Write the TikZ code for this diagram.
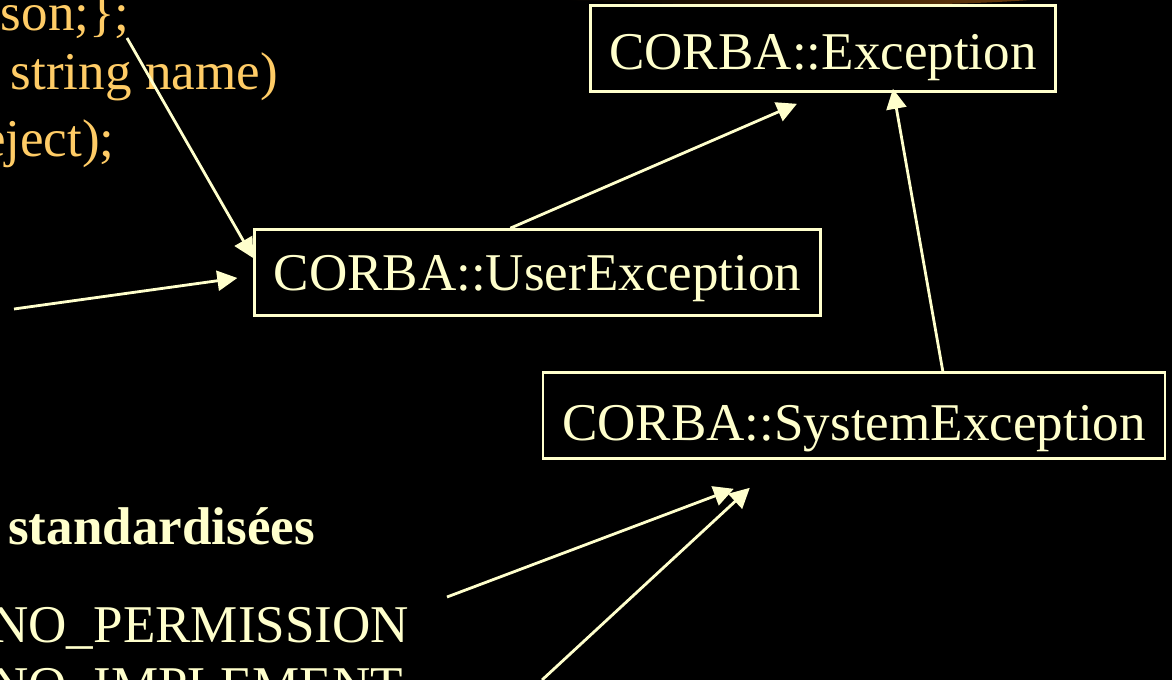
\documentclass[tikz,border=0pt]{standalone}
\usepackage{fontspec}
\setmainfont{Liberation Serif}
\usetikzlibrary{arrows.meta}
\definecolor{cream}{RGB}{255,255,204}
\definecolor{gold}{RGB}{255,204,102}
\definecolor{glow}{RGB}{104,58,12}
\tikzset{
  cls/.style={draw=cream, line width=1.5pt, fill=black, text=cream,
    font=\fontsize{30.2}{36}\selectfont, inner xsep=0.38cm, inner ysep=0pt,
    minimum height=1.72cm, text depth=0pt},
  inh/.style={cream, line width=1.6pt, -{Triangle[length=0.4cm,width=0.4cm]}},
  txt/.style={font=\fontsize{30.2}{36}\selectfont, inner sep=0pt}
}

\begin{document}
\begin{tikzpicture}
\useasboundingbox (0,0) rectangle (23.44,13.6);
\fill [black] (0,0) rectangle (23.44,13.6);
\shade [left color=black, right color=glow] (11.2,13.6) .. controls (14,13.47) and (18.5,13.44) .. (20.6,13.6) -- cycle;

% code lines, cut at the left
\node [txt, text=gold, anchor=base east] (son) at (2.6,12.99) {son;\};};
\node [txt, text=gold, anchor=base east] (name) at (5.56,11.8) {string name)};
\node [txt, text=gold, anchor=base east] (reject) at (2.3,10.46) {eject);};

% standard exceptions
\node [txt, text=cream, anchor=base west, font=\fontsize{30.2}{36}\selectfont\bfseries] (std) at (0.16,2.7) {standardisées};
\node [txt, text=cream, anchor=base west] (perm) at (-0.2,0.74) {NO\_PERMISSION};
\node [txt, text=cream, anchor=base west] (impl) at (-0.2,-0.48) {NO\_IMPLEMENT};

% class boxes
\node [cls, text height=23.4pt] (exc) at (16.46,12.63) {CORBA::Exception};
\node [cls, text height=21pt] (user) at (10.75,8.15) {CORBA::UserException};
\node [cls, text height=29pt] (sys) at (17.08,5.29) {CORBA::SystemException};

\coordinate (a) at (0.28,7.42);
\coordinate (b) at (8.94,1.66);
\coordinate (c) at (10.84,0);

\draw [inh] ([xshift=5.14cm]user.north west) -- ([xshift=4.16cm,yshift=-0.22cm]exc.south west);
\draw [inh] ([xshift=8.02cm]sys.north west) -- ([xshift=6.08cm,yshift=0.08cm]exc.south west);
\draw [inh] (a) -- ([xshift=-0.32cm,yshift=-0.11cm]user.west);
\draw [inh] ([xshift=-0.06cm,yshift=-0.15cm]son.base east) -- ([yshift=-0.6cm]user.north west);
\draw [inh] (b) -- ([xshift=3.84cm,yshift=-0.58cm]sys.south west);
\draw [inh] (c) -- ([xshift=4.16cm,yshift=-0.56cm]sys.south west);
\end{tikzpicture}
\end{document}
